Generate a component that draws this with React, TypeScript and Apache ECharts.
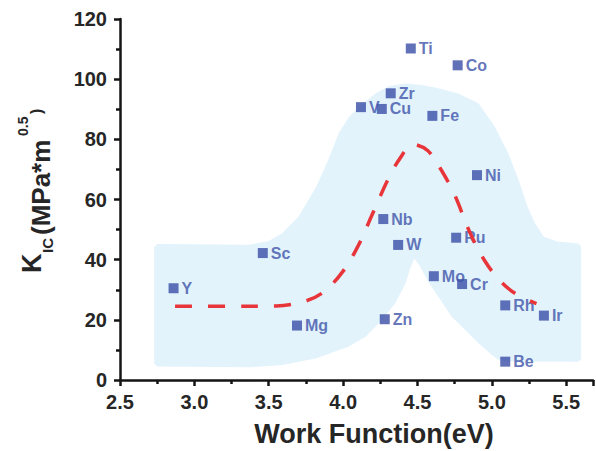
import React, { useEffect, useRef } from 'react';
import * as echarts from 'echarts';

// Scatter points: element, work function (eV), K_IC (MPa*m^0.5)
const elements = ['Y', 'Sc', 'Mg', 'Zn', 'Nb', 'W', 'V', 'Cu', 'Zr', 'Ti', 'Co', 'Fe', 'Ni', 'Ru', 'Mo', 'Cr', 'Rh', 'Ir', 'Be'];
const workFunction = [2.86, 3.46, 3.69, 4.28, 4.27, 4.37, 4.12, 4.26, 4.32, 4.455, 4.77, 4.6, 4.9, 4.76, 4.61, 4.8, 5.09, 5.35, 5.09];
const kic = [30.5, 42.2, 18.1, 20.2, 53.5, 44.9, 90.7, 90.1, 95.3, 110.2, 104.6, 87.8, 68.1, 47.3, 34.5, 31.9, 24.8, 21.4, 6.1];

// Red dashed trend line
const trendX = [2.87, 3.2, 3.55, 3.75, 3.87, 4.0, 4.1, 4.2, 4.3, 4.38, 4.47, 4.57, 4.66, 4.75, 4.85, 4.95, 5.05, 5.15, 5.3];
const trendY = [24.5, 24.5, 24.6, 26.3, 29.3, 36.2, 44.5, 55.5, 66.5, 73.5, 78.3, 76.2, 69.8, 61.5, 49.3, 39.8, 33.3, 29.0, 25.4];

// Light blue band outline
const bandX = [2.73, 2.73, 2.75, 3.37, 3.50, 3.59, 3.70, 3.82, 3.90, 3.97, 4.04, 4.11, 4.22, 4.31, 4.42, 4.53, 4.64, 4.77, 4.91, 5.02, 5.11, 5.18, 5.24, 5.29, 5.35, 5.44, 5.58, 5.60, 5.60, 5.58, 5.06, 5.0, 4.91, 4.82, 4.73, 4.64, 4.57, 4.52, 4.48, 4.45, 4.42, 4.35, 4.26, 4.15, 4.04, 3.82, 3.59, 3.37, 2.75];
const bandY = [5.5, 44.2, 45.2, 45.0, 46.2, 48.8, 54.3, 64.3, 73.1, 82.0, 87.5, 90.9, 95.3, 97.7, 98.6, 98.1, 97.0, 95.3, 92.0, 84.2, 75.4, 66.5, 57.6, 52.1, 47.6, 46.0, 45.4, 44.5, 7.0, 6.1, 6.2, 8.3, 12.2, 16.6, 21.0, 27.7, 32.8, 37.5, 40.4, 37.0, 32.1, 25.5, 19.9, 14.4, 11.1, 7.2, 5.0, 4.2, 4.5];

const xTicks = [2.5, 3.0, 3.5, 4.0, 4.5, 5.0, 5.5];

const FONT = '"Liberation Sans", Arial, Helvetica, sans-serif';
const BLUE = '#3a4ea6';
const AXIS = '#141414';

export default function App() {
  const ref = useRef<HTMLDivElement>(null);

  useEffect(() => {
    if (!ref.current) return;
    const chart = echarts.init(ref.current, undefined, { renderer: 'svg' });

    const option: any = {
      animation: false,
      backgroundColor: '#ffffff',
      grid: { left: 120, right: 0, top: 19, bottom: 71, containLabel: false },
      xAxis: {
        type: 'value',
        min: 2.5,
        max: 5.68,
        interval: 0.5,
        splitLine: { show: false },
        axisLine: { lineStyle: { color: AXIS, width: 2.5 } },
        axisTick: { length: 6, lineStyle: { color: AXIS, width: 2.5 } },
        minorTick: { show: true, splitNumber: 2, length: 4, lineStyle: { color: AXIS, width: 2.5 } },
        axisLabel: {
          margin: 12,
          fontSize: 20,
          fontWeight: 'bold',
          fontFamily: FONT,
          color: '#262626',
          formatter: (v: number) => (xTicks.some((t) => Math.abs(t - v) < 1e-6) ? v.toFixed(1) : ''),
        },
      },
      yAxis: {
        type: 'value',
        min: 0,
        max: 120,
        interval: 20,
        splitLine: { show: false },
        axisLine: { show: true, lineStyle: { color: AXIS, width: 2.5 } },
        axisTick: { length: 6, lineStyle: { color: AXIS, width: 2.5 } },
        minorTick: { show: true, splitNumber: 2, length: 4, lineStyle: { color: AXIS, width: 2.5 } },
        axisLabel: {
          margin: 13,
          fontSize: 20,
          fontWeight: 'bold',
          fontFamily: FONT,
          color: '#262626',
        },
      },
      graphic: [
        {
          type: 'text',
          x: 374,
          y: 434,
          style: {
            text: 'Work Function(eV)',
            font: `bold 27px ${FONT}`,
            fill: '#262626',
            align: 'center',
            verticalAlign: 'middle',
          },
        },
        {
          type: 'group',
          x: 38,
          y: 273,
          rotation: Math.PI / 2,
          children: [
            { type: 'text', x: 0, y: -6, style: { text: 'K', font: `bold 27px ${FONT}`, fill: '#262626', verticalAlign: 'middle', align: 'left' } },
            { type: 'text', x: 20, y: 9, style: { text: 'IC', font: `bold 15px ${FONT}`, fill: '#262626', verticalAlign: 'middle', align: 'left' } },
            { type: 'text', x: 38, y: 3, style: { text: '(MPa*m', font: `bold 26px ${FONT}`, fill: '#262626', verticalAlign: 'middle', align: 'left' } },
            { type: 'text', x: 137, y: -15, style: { text: '0.5', font: `bold 14px ${FONT}`, fill: '#262626', verticalAlign: 'middle', align: 'left' } },
            { type: 'text', x: 159, y: -2, style: { text: ')', font: `bold 16px ${FONT}`, fill: '#262626', verticalAlign: 'middle', align: 'left' } },
          ],
        },
      ],
      series: [
        {
          type: 'custom',
          silent: true,
          z: 1,
          clip: false,
          data: [[bandX[0], bandY[0]]],
          renderItem: (_params: any, api: any) => ({
            type: 'polygon',
            shape: { points: bandX.map((x, i) => api.coord([x, bandY[i]])) },
            style: { fill: '#e2f3fc', stroke: 'none' },
          }),
        },
        {
          type: 'scatter',
          z: 2,
          symbol: 'rect',
          symbolSize: 10,
          itemStyle: { color: BLUE },
          label: {
            show: true,
            position: 'right',
            distance: 3,
            formatter: '{b}',
            fontSize: 16,
            fontWeight: 'bold',
            fontFamily: FONT,
            color: '#3d52a8',
          },
          data: elements.map((name, i) => ({ name, value: [workFunction[i], kic[i]] })),
        },
        {
          type: 'line',
          z: 3,
          smooth: 0.35,
          symbol: 'none',
          silent: true,
          lineStyle: { color: '#e8353a', width: 3.5, type: [17, 16] },
          data: trendX.map((x, i) => [x, trendY[i]]),
        },
      ],
    };

    chart.setOption(option);
    return () => chart.dispose();
  }, []);

  return (
    <div
      ref={ref}
      style={{ position: 'fixed', left: 0, top: 0, width: 596, height: 451, background: '#fff' }}
    />
  );
}
